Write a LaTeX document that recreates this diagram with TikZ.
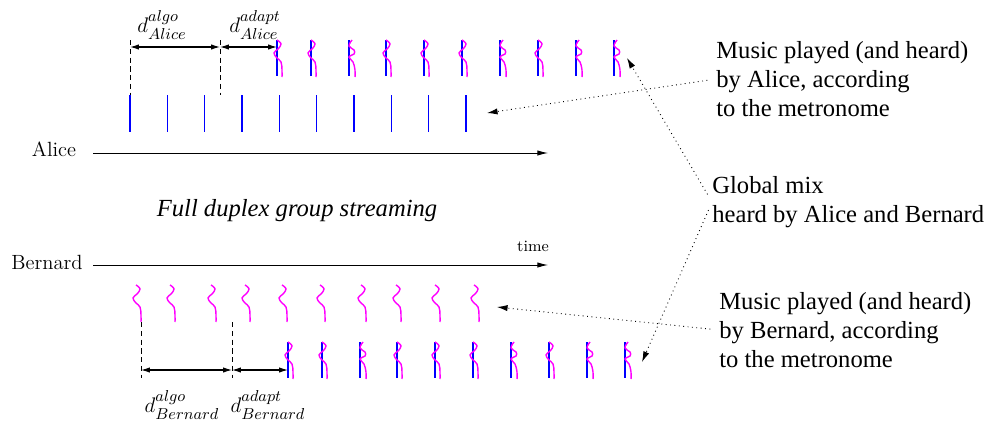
\documentclass[tikz,border=0pt]{standalone}
\usepackage{fontspec}
\usepackage{amsmath}
\usepackage{tikz}
\usetikzlibrary{arrows.meta}
\newfontfamily\timesfont{Liberation Serif}
\definecolor{wavecol}{RGB}{255,0,255}
\definecolor{tickcol}{RGB}{0,0,255}

\tikzset{
	axis/.style = {line width=0.5pt, -{Latex[length=6pt, width=3pt]}},
	tick/.style = {tickcol, line width=0.6pt},
	wave/.style = {wavecol, line width=0.8pt},
	guide/.style = {line width=0.5pt, dash pattern=on 3pt off 2pt},
	span/.style = {line width=0.6pt, {Latex[length=5pt, width=3pt]}-{Latex[length=5pt, width=3pt]}},
	pointer/.style = {dotted, line width=0.5pt, -{Latex[length=6pt, width=3.5pt]}, shorten <=5pt},
	note/.style = {font=\timesfont\fontsize{14}{16.4}\selectfont, align=left, anchor=west, inner sep=0pt},
	delay/.style = {font=\fontsize{12.5}{15}\selectfont, inner sep=0pt},
	wavea/.pic = {\draw[wave] plot[smooth, tension=0.7] coordinates {(0,0) (4,4) (1,9) (-3,13) (0,18) (4,22) (5,30) (5,37)};},
	waveb/.pic = {\draw[wave] plot[smooth, tension=0.7] coordinates {(3,0) (0,6) (5,10) (5,14) (0,17) (4,22) (6,30) (6,37)};}
}

\begin{document}
\begin{tikzpicture}[x=0.02cm, y=-0.02cm]
\useasboundingbox (0,0) rectangle (993,426);

\node[font=\fontsize{11.7}{14}\selectfont, inner sep=0pt] (alice) at (54,149) {Alice};
\node[font=\fontsize{11.7}{14}\selectfont, inner sep=0pt] (bernard) at (47,262) {Bernard};
\node[font=\fontsize{9}{11}\selectfont, inner sep=0pt] (time) at (533,246) {time};
\node[font=\timesfont\itshape\fontsize{14}{16.4}\selectfont, inner sep=0pt] (title) at (297,211) {Full duplex group streaming};

\coordinate (astart) at (93,153);
\coordinate (aend) at (548,153);
\coordinate (bstart) at (93,265);
\coordinate (bend) at (548,265);
\draw[axis] (astart) -- (aend);
\draw[axis] (bstart) -- (bend);

\foreach \i in {0,...,9}
	\draw[tick] (130+37.33*\i,95) -- ++(0,37);
\foreach \x in {136,170,211,245,282,320,361,396,435,474}
	\pic at (\x,285) {wavea};
\foreach \x/\k in {277/a,311/a,349/b,386/a,424/a,462/a,500/b,538/a,576/b,614/b} {
	\draw[tick] (\x,40) -- (\x,76);
	\pic at (\x,40) {wave\k};
	\draw[tick] (\x+11,342) -- (\x+11,378);
	\pic at (\x+11,342) {wave\k};
}

\coordinate (a0) at (130,47);
\coordinate (a1) at (220,47);
\coordinate (a2) at (277,47);
\draw[guide] (130,40) -- (130,95);
\draw[guide] (220,40) -- (220,95);
\draw[span] (a0) -- (a1);
\draw[span] (a1) -- (a2);
\node[delay] (dalgoa) at (162,25) {$d^{algo}_{Alice}$};
\node[delay] (dadapta) at (255,25) {$d^{adapt}_{Alice}$};

\coordinate (b0) at (141,370);
\coordinate (b1) at (232,370);
\coordinate (b2) at (288,370);
\draw[guide] (141,322) -- (141,378);
\draw[guide] (232,322) -- (232,378);
\draw[span] (b0) -- (b1);
\draw[span] (b1) -- (b2);
\node[delay] (dalgob) at (182,405) {$d^{algo}_{Bernard}$};
\node[delay] (dadaptb) at (268,405) {$d^{adapt}_{Bernard}$};

\node[note] (malice) at (716,79) {Music played (and heard)\\by Alice, according\\to the metronome};
\node[note] (gmix) at (712,202) {Global mix\\heard by Alice and Bernard};
\node[note] (mbernard) at (719,330) {Music played (and heard)\\by Bernard, according\\to the metronome};

\coordinate (alow) at (487,113);
\coordinate (atop) at (627,58);
\coordinate (btop) at (497,307);
\coordinate (blow) at (642,362);
\draw[pointer] (malice.west) -- (alow);
\draw[pointer] (gmix.west) -- (atop);
\draw[pointer] (gmix.west) -- (blow);
\draw[pointer] (mbernard.west) -- (btop);
\end{tikzpicture}
\end{document}
